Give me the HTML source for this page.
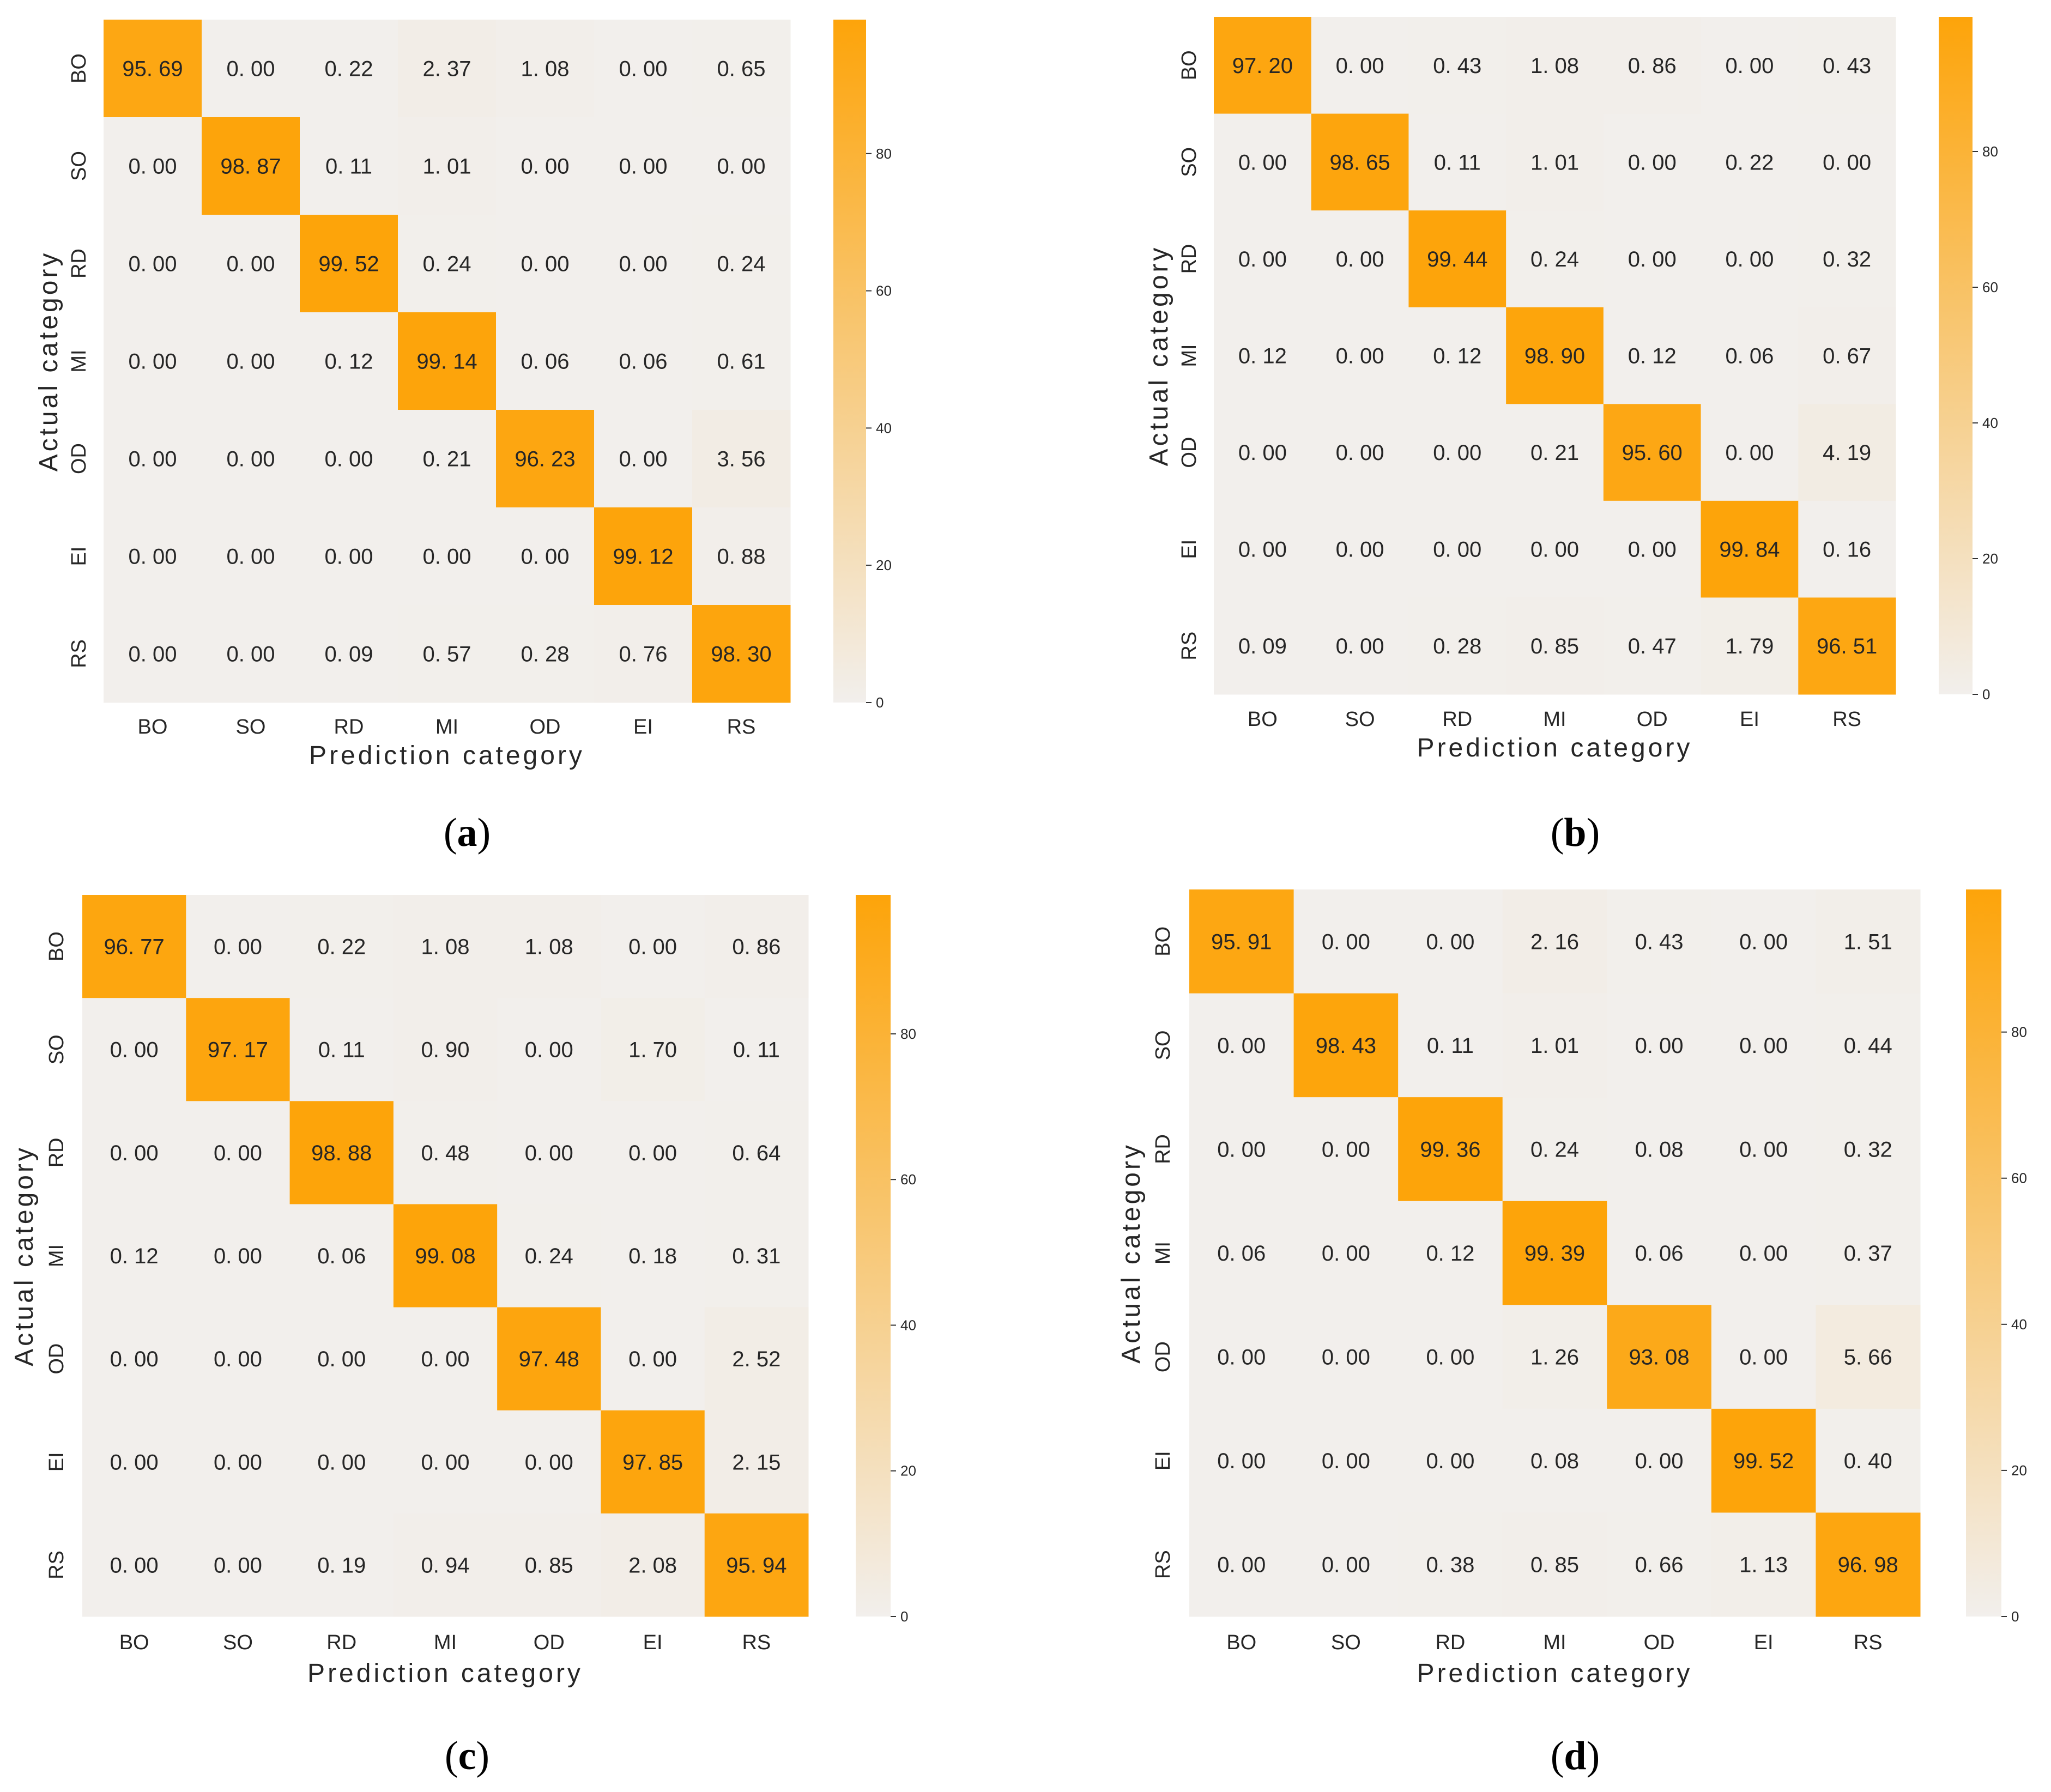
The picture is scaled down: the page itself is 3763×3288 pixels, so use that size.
<!DOCTYPE html>
<html><head><meta charset="utf-8">
<style>
html,body{margin:0;padding:0;background:#fff;}
svg{display:block;}
text{font-family:"Liberation Sans","Noto Sans CJK SC",sans-serif;}
text.cap{font-family:"Liberation Serif",serif;}
</style></head>
<body>
<svg id="fig" width="3763" height="3288" viewBox="0 0 3763 3288" xmlns="http://www.w3.org/2000/svg">
<defs>
<linearGradient id="cbgrad" x1="0" y1="1" x2="0" y2="0">
<stop offset="0" stop-color="#f2efec"/>
<stop offset="1" stop-color="#fda40a"/>
</linearGradient>
</defs>
</svg>
<script>
const categories = ["BO","SO","RD","MI","OD","EI","RS"];
const cbTicks = [0,20,40,60,80];
const matrixA = [
 [95.69,0.00,0.22,2.37,1.08,0.00,0.65],
 [0.00,98.87,0.11,1.01,0.00,0.00,0.00],
 [0.00,0.00,99.52,0.24,0.00,0.00,0.24],
 [0.00,0.00,0.12,99.14,0.06,0.06,0.61],
 [0.00,0.00,0.00,0.21,96.23,0.00,3.56],
 [0.00,0.00,0.00,0.00,0.00,99.12,0.88],
 [0.00,0.00,0.09,0.57,0.28,0.76,98.30]];
const matrixB = [
 [97.20,0.00,0.43,1.08,0.86,0.00,0.43],
 [0.00,98.65,0.11,1.01,0.00,0.22,0.00],
 [0.00,0.00,99.44,0.24,0.00,0.00,0.32],
 [0.12,0.00,0.12,98.90,0.12,0.06,0.67],
 [0.00,0.00,0.00,0.21,95.60,0.00,4.19],
 [0.00,0.00,0.00,0.00,0.00,99.84,0.16],
 [0.09,0.00,0.28,0.85,0.47,1.79,96.51]];
const matrixC = [
 [96.77,0.00,0.22,1.08,1.08,0.00,0.86],
 [0.00,97.17,0.11,0.90,0.00,1.70,0.11],
 [0.00,0.00,98.88,0.48,0.00,0.00,0.64],
 [0.12,0.00,0.06,99.08,0.24,0.18,0.31],
 [0.00,0.00,0.00,0.00,97.48,0.00,2.52],
 [0.00,0.00,0.00,0.00,0.00,97.85,2.15],
 [0.00,0.00,0.19,0.94,0.85,2.08,95.94]];
const matrixD = [
 [95.91,0.00,0.00,2.16,0.43,0.00,1.51],
 [0.00,98.43,0.11,1.01,0.00,0.00,0.44],
 [0.00,0.00,99.36,0.24,0.08,0.00,0.32],
 [0.06,0.00,0.12,99.39,0.06,0.00,0.37],
 [0.00,0.00,0.00,1.26,93.08,0.00,5.66],
 [0.00,0.00,0.00,0.08,0.00,99.52,0.40],
 [0.00,0.00,0.38,0.85,0.66,1.13,96.98]];

const panels = [
 {id:"a", m:matrixA, x0:190,x1:1450,y0:36,y1:1289, cb0:1529,cb1:1589, ylx:144, ytx:89, xly:1332, xty:1386, cap:[857,1528]},
 {id:"b", m:matrixB, x0:2227,x1:3478,y0:31,y1:1274, cb0:3557,cb1:3619, ylx:2181, ytx:2126, xly:1318, xty:1372, cap:[2890,1528]},
 {id:"c", m:matrixC, x0:151,x1:1483,y0:1642,y1:2966, cb0:1570,cb1:1634, ylx:103, ytx:44, xly:3012, xty:3070, cap:[857,3222]},
 {id:"d", m:matrixD, x0:2182,x1:3523,y0:1632,y1:2966, cb0:3607,cb1:3672, ylx:2133, ytx:2075, xly:3012, xty:3070, cap:[2890,3222]}
];
const NS="http://www.w3.org/2000/svg";
const svg=document.getElementById("fig");
function mk(tag,attrs,parent){const e=document.createElementNS(NS,tag);for(const k in attrs)e.setAttribute(k,attrs[k]);(parent||svg).appendChild(e);return e;}
function color(v,vmax){const t=Math.max(0,Math.min(1,v/vmax));const a=[242,239,236],b=[253,164,10];return "rgb("+a.map((c,i)=>Math.round(c+(b[i]-c)*t)).join(",")+")";}
function fmt(v){const s=v.toFixed(2).split(".");return s[0]+". "+s[1];}

panels.forEach(p=>{
  const g=mk("g",{});
  
  
  const n=categories.length;
  let vmax=0;p.m.forEach(r=>r.forEach(v=>{if(v>vmax)vmax=v;}));
  const cw=(p.x1-p.x0)/n, ch=(p.y1-p.y0)/n;
  const xs=i=>p.x0+i*cw, ys=j=>p.y0+j*ch;
  p.m.forEach((row,j)=>row.forEach((v,i)=>{
    const r=mk("rect",{x:xs(i),y:ys(j),width:cw+0.5,height:ch+0.5,fill:color(v,vmax)},g);
    
    
    const t=mk("text",{x:xs(i)+cw/2,y:ys(j)+ch/2+14,"text-anchor":"middle","font-size":40,fill:"#262626"},g);
    t.textContent=fmt(v);
    
    
  }));
  categories.forEach((c,i)=>{
    const t=mk("text",{x:xs(i)+cw/2,y:p.xly+14,"text-anchor":"middle","font-size":38,fill:"#262626"},g);
    t.textContent=c;
    
    
    const cy=ys(i)+ch/2;
    const u=mk("text",{x:p.ylx+13,y:cy,"text-anchor":"middle","font-size":38,fill:"#262626",transform:"rotate(-90 "+(p.ylx+13)+" "+cy+")"},g);
    u.textContent=c;
    
    
  });
  const xt=mk("text",{x:(p.x0+p.x1)/2,y:p.xty+16,"text-anchor":"middle","font-size":48,"letter-spacing":"5",fill:"#262626"},g);
  xt.textContent="Prediction category";
  
  
  const ym=(p.y0+p.y1)/2;
  const yt=mk("text",{x:p.ytx+16,y:ym,"text-anchor":"middle","font-size":48,"letter-spacing":"5",fill:"#262626",transform:"rotate(-90 "+(p.ytx+16)+" "+ym+")"},g);
  yt.textContent="Actual category";
  
  
  const cb=mk("rect",{x:p.cb0,y:p.y0,width:p.cb1-p.cb0,height:p.y1-p.y0,fill:"url(#cbgrad)"},g);
  
  
  cbTicks.forEach(tv=>{
    const ty=p.y1-(tv/vmax)*(p.y1-p.y0);
    const l=mk("line",{x1:p.cb1,x2:p.cb1+10,y1:ty,y2:ty,stroke:"#333","stroke-width":2},g);
    
    
    const t=mk("text",{x:p.cb1+18,y:ty+9,"font-size":26,fill:"#262626"},g);
    t.textContent=tv;
    
    
  });
  const cap=mk("text",{x:p.cap[0],y:p.cap[1]+24,"text-anchor":"middle","font-size":74,fill:"#000","class":"cap"},g);
  cap.innerHTML='(<tspan font-weight="bold">'+p.id+'</tspan>)';
  
  
});
</script>
</body></html>
